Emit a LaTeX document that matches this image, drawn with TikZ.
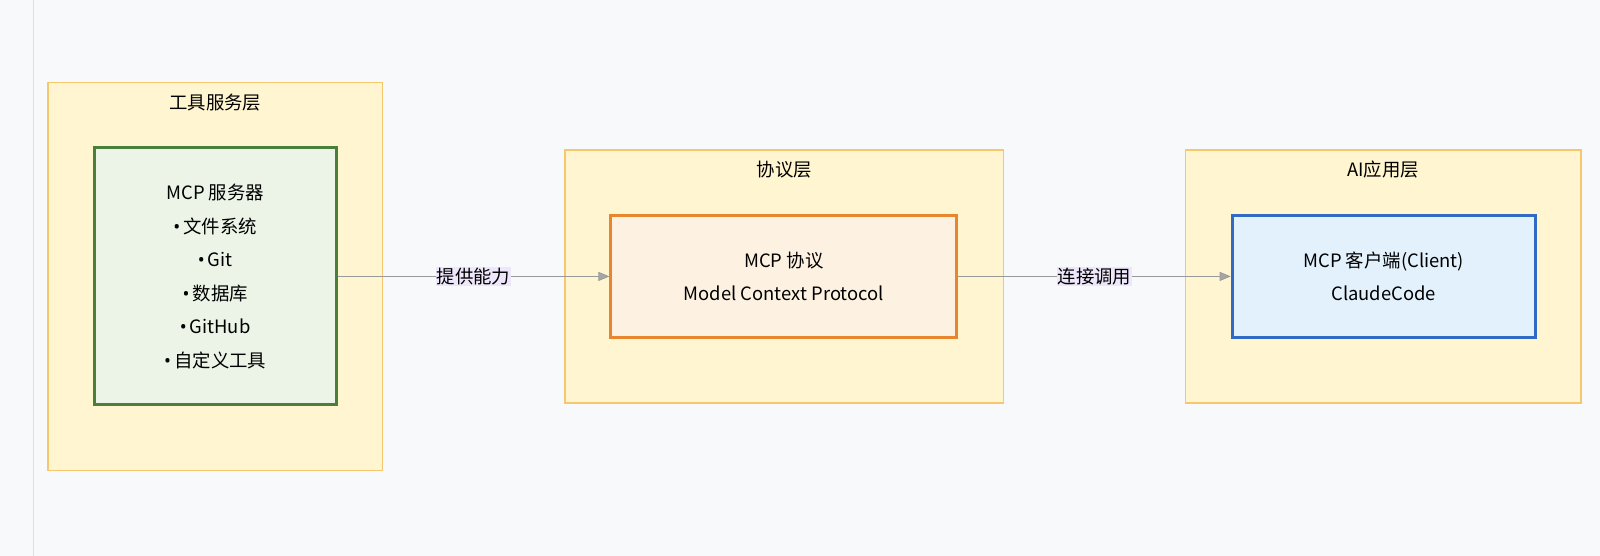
\documentclass[tikz,border=0pt]{standalone}
\usepackage{fontspec}
\setmainfont{Noto Sans CJK SC}
\newfontfamily\latinfont{Noto Sans}
\usetikzlibrary{arrows.meta}
\definecolor{bgc}{HTML}{F8F9FB}
\definecolor{grpfill}{HTML}{FFF5D0}
\definecolor{grpline}{HTML}{F7C76E}
\definecolor{lblbg}{HTML}{EEE6FA}
\definecolor{srvline}{HTML}{4A7F3A}
\definecolor{srvfill}{HTML}{EBF4E7}
\definecolor{prtline}{HTML}{E8862F}
\definecolor{prtfill}{HTML}{FDF1E1}
\definecolor{cltline}{HTML}{2F6BC4}
\definecolor{cltfill}{HTML}{E3F1FC}
\newcommand{\bul}{{\latinfont •}\,}
\tikzset{
  grp/.style={draw=grpline,fill=grpfill,line width=1.2pt},
  inbox/.style={line width=3pt,align=center,font=\fontsize{18.4}{33.6}\selectfont},
  ttl/.style={font=\fontsize{18.4}{22}\selectfont},
  flow/.style={draw=gray!80,line width=0.8pt,-{Triangle[length=11pt,width=9pt,fill=gray!70]}},
  lbl/.style={fill=lblbg,inner sep=1pt,font=\fontsize{18.4}{22}\selectfont}
}
\begin{document}
\begin{tikzpicture}[x=1.02pt,y=-1.02pt]
	\fill[bgc] (0,0) rectangle (1568.6,545);
	\useasboundingbox (0,0) rectangle (1568.6,545);
	\draw[gray!25,line width=1.5pt] (33,0) -- (33,545);
	% groups
	\draw[grp] (47,81) rectangle (375,461);
	\node[ttl] (tooltitle) at (211,101) {工具服务层};
	\draw[grp] (554,147) rectangle (984,395);
	\node[ttl] (prototitle) at (769,166) {协议层};
	\draw[grp] (1162,147) rectangle (1550,395);
	\node[ttl] (apptitle) at (1356,166) {AI应用层};
	% inner boxes
	\node[inbox,draw=srvline,fill=srvfill,minimum width=242pt,minimum height=257pt] (server) at (211,271)
		{MCP 服务器\\\bul 文件系统\\\bul Git\\\bul 数据库\\\bul GitHub\\\bul 自定义工具};
	\node[inbox,draw=prtline,fill=prtfill,minimum width=346pt,minimum height=122pt] (protocol) at (768.5,271)
		{MCP 协议\\Model Context Protocol};
	\node[inbox,draw=cltline,fill=cltfill,minimum width=303pt,minimum height=122pt] (client) at (1356.5,271)
		{MCP 客户端(Client)\\ClaudeCode};
	% connectors
	\draw[flow] (server.east) -- node[lbl] {提供能力} (protocol.west);
	\draw[flow] (protocol.east) -- node[lbl] {连接调用} (client.west);
\end{tikzpicture}
\end{document}
